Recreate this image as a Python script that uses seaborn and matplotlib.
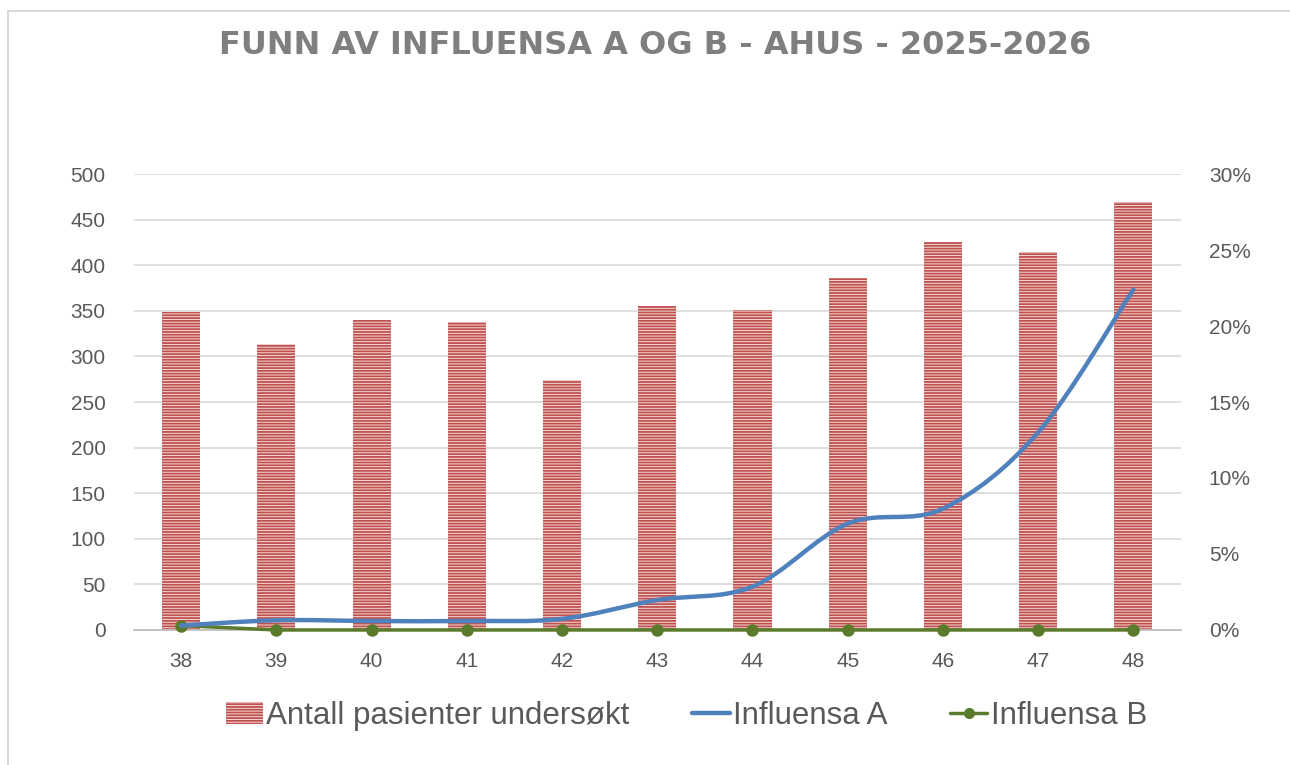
import matplotlib
matplotlib.use("Agg")
import matplotlib.pyplot as plt
from matplotlib.path import Path
from matplotlib.patches import PathPatch, Patch
from matplotlib.lines import Line2D
from matplotlib.ticker import PercentFormatter
import seaborn as sns
import pandas as pd

# Data
weeks = ["38", "39", "40", "41", "42", "43", "44", "45", "46", "47", "48"]
patients = [349, 314, 340, 338, 274, 355, 351, 386, 426, 415, 469]
influensa_a = [0.29, 0.64, 0.59, 0.59, 0.73, 1.97, 2.85, 7.0, 7.98, 13.0, 22.4]  # %
influensa_b = [0.29, 0, 0, 0, 0, 0, 0, 0, 0, 0, 0]  # %

df = pd.DataFrame({"week": weeks, "patients": patients,
                   "infl_a": influensa_a, "infl_b": influensa_b})
df["pos"] = range(len(df))

sns.set_style("white")
plt.rcParams["font.family"] = ["Liberation Sans", "DejaVu Sans"]
plt.rcParams["hatch.linewidth"] = 1.3

text_grey = "#595959"
bar_red = "#C0504D"
blue = "#4F81BD"
green = "#5B7B2C"

fig = plt.figure(figsize=(12.9, 7.65), dpi=100)
ax = fig.add_axes([0.1035, 0.1765, 0.812, 0.596])

# bars (patients)
sns.barplot(data=df, x="week", y="patients", ax=ax, width=0.4,
            color="#F2DCDB", edgecolor=bar_red, linewidth=0, hatch="------",
            saturation=1)

ax.set_ylim(0, 500)
ax.set_yticks(range(0, 501, 50))
ax.set_xlim(-0.5, len(weeks) - 0.5)
ax.grid(axis="y", color="#D9D9D9", linewidth=1.2)
ax.set_axisbelow(True)
for s in ["top", "right", "left"]:
    ax.spines[s].set_visible(False)
ax.spines["bottom"].set_color("#BFBFBF")
ax.spines["bottom"].set_linewidth(1.3)
ax.set_xlabel("")
ax.set_ylabel("")
ax.tick_params(axis="both", length=0, labelsize=15, labelcolor=text_grey)
ax.tick_params(axis="y", pad=20)
ax.tick_params(axis="x", pad=16)

# percentage axis
ax2 = ax.twinx()
ax2.set_ylim(0, 30)
ax2.set_yticks(range(0, 31, 5))
ax2.yaxis.set_major_formatter(PercentFormatter(decimals=0))
for s in ax2.spines.values():
    s.set_visible(False)
ax2.tick_params(axis="y", length=0, labelsize=15, labelcolor=text_grey, pad=20)

# Influensa B (straight, with markers)
sns.lineplot(data=df, x="pos", y="infl_b", ax=ax2, color=green, linewidth=2.5,
             marker="o", markersize=9, markeredgewidth=0, clip_on=False)

# Influensa A - smoothed line like Excel (Bezier through the data points)
xs = list(df["pos"])
ys = list(df["infl_a"])
verts = [(xs[0], ys[0])]
codes = [Path.MOVETO]
n = len(xs)
for i in range(n - 1):
    x0, y0 = (xs[i - 1], ys[i - 1]) if i > 0 else (xs[i], ys[i])
    x1, y1 = xs[i], ys[i]
    x2, y2 = xs[i + 1], ys[i + 1]
    x3, y3 = (xs[i + 2], ys[i + 2]) if i + 2 < n else (x2, y2)
    c1 = (x1 + (x2 - x0) / 6, y1 + (y2 - y0) / 6)
    c2 = (x2 - (x3 - x1) / 6, y2 - (y3 - y1) / 6)
    verts += [c1, c2, (x2, y2)]
    codes += [Path.CURVE4] * 3
ax2.add_patch(PathPatch(Path(verts, codes), facecolor="none", edgecolor=blue,
                        linewidth=3.2, capstyle="round", zorder=3))
ax2.set_xlim(-0.5, len(weeks) - 0.5)
ax2.set_xlabel("")
ax2.set_ylabel("")

# title
fig.text(0.508, 0.94, "FUNN AV INFLUENSA A OG B - AHUS - 2025-2026",
         ha="center", va="center", fontsize=23, fontweight="bold",
         color="#7F7F7F", family="DejaVu Sans")

# legend
handles = [
    Patch(facecolor="#F2DCDB", edgecolor=bar_red, linewidth=0, hatch="------"),
    Line2D([], [], color=blue, linewidth=3.2),
    Line2D([], [], color=green, linewidth=2.5, marker="o", markersize=7),
]
labels = ["Antall pasienter undersøkt", "Influensa A", "Influensa B"]
fig.legend(handles, labels, loc="center", bbox_to_anchor=(0.532, 0.064),
           ncol=3, frameon=False, fontsize=22.5, labelcolor=text_grey,
           handlelength=1.2, handletextpad=0.1, columnspacing=2.0)

# chart border (left and top only visible)
fig.add_artist(Line2D([0.0065, 0.0065], [0, 0.985], transform=fig.transFigure,
                      color="#D9D9D9", linewidth=1.5))
fig.add_artist(Line2D([0.0065, 1], [0.985, 0.985], transform=fig.transFigure,
                      color="#D9D9D9", linewidth=1.5))

fig.savefig("out.png", dpi=100)
